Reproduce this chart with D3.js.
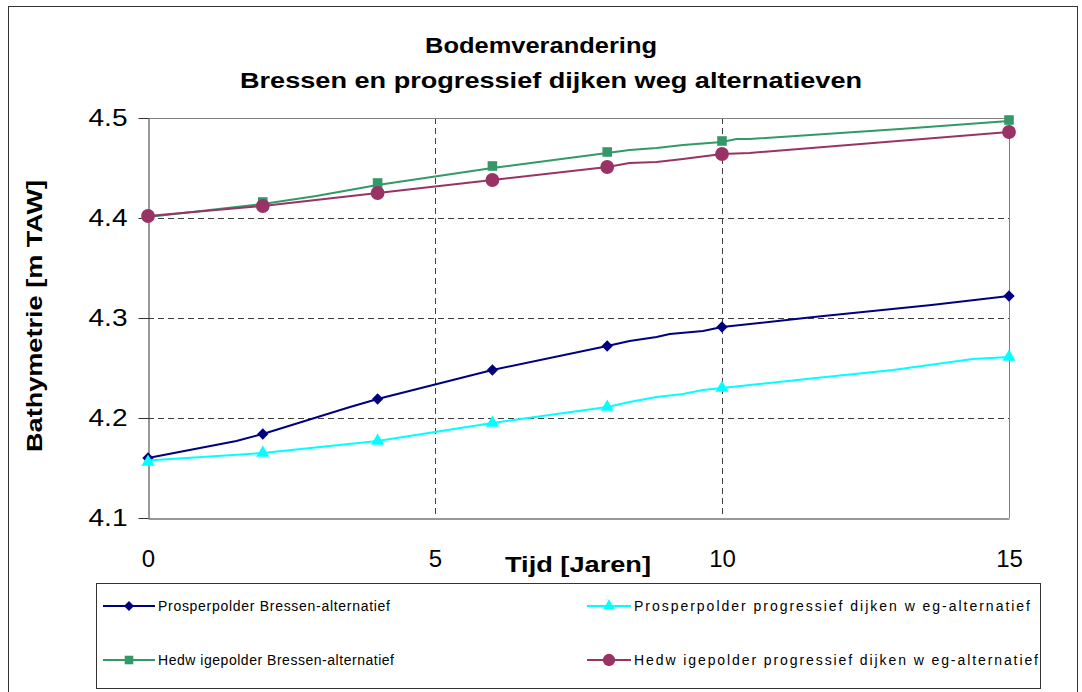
<!DOCTYPE html>
<html lang="nl">
<head>
<meta charset="UTF-8">
<title>Bodemverandering</title>
<script src="https://d3js.org/d3.v7.min.js"></script>
<style>
  body { margin: 0; background: #fff; font-family: Arial, "Liberation Sans", sans-serif; }
</style>
</head>
<body>
<div id="chart"></div>
<script>
// marker years
const markerYears = [0, 2, 4, 6, 8, 10, 15];

// marker values per series
const prosperBressen   = [4.160, 4.184, 4.219, 4.248, 4.272, 4.291, 4.322];
const prosperProgr     = [4.156, 4.165, 4.177, 4.195, 4.211, 4.230, 4.261];
const hedwigeBressen   = [4.402, 4.416, 4.435, 4.452, 4.466, 4.477, 4.498];
const hedwigeProgr     = [4.402, 4.412, 4.425, 4.438, 4.451, 4.464, 4.486];

// line (model output) times and values per series
const prosperBressenT  = [0, 1.54, 2, 3.52, 4, 6, 8, 8.39, 8.86, 9.09, 9.67, 10, 11.6, 13.65, 15];
const prosperBressenV  = [4.160, 4.177, 4.184, 4.211, 4.219, 4.248, 4.272, 4.277, 4.281, 4.284, 4.287, 4.291, 4.301, 4.313, 4.322];
const prosperProgrT    = [0, 2, 3.0, 4, 6, 8, 8.39, 8.86, 9.32, 9.67, 10, 11.64, 12.98, 14.37, 15];
const prosperProgrV    = [4.1575, 4.165, 4.171, 4.177, 4.195, 4.211, 4.216, 4.221, 4.224, 4.228, 4.230, 4.240, 4.248, 4.259, 4.261];
const hedwigeBressenT  = [0, 2, 2.93, 4, 6, 8, 8.39, 8.86, 9.32, 10, 10.25, 10.48, 13.1, 15];
const hedwigeBressenV  = [4.401, 4.414, 4.422, 4.433, 4.450, 4.465, 4.468, 4.470, 4.473, 4.476, 4.479, 4.479, 4.489, 4.497];
const hedwigeProgrT    = [0, 2, 4, 6, 8, 8.39, 8.86, 9.32, 10, 10.48, 15];
const hedwigeProgrV    = [4.402, 4.412, 4.425, 4.438, 4.451, 4.455, 4.456, 4.459, 4.464, 4.465, 4.486];

const seriesNames = [
  "Prosperpolder Bressen-alternatief",
  "Prosperpolder progressief dijken w eg-alternatief",
  "Hedw igepolder Bressen-alternatief",
  "Hedw igepolder progressief dijken w eg-alternatief"
];

const xTicks = [0, 5, 10, 15];
const yTicks = [4.1, 4.2, 4.3, 4.4, 4.5];

const width = 1082, height = 692;
const plot = { left: 148, right: 1009, top: 118, bottom: 518 };

// Excel style diamond (square turned 45 degrees)
const diamond = {
  draw(ctx, size) {
    const r = Math.sqrt(size / 2);
    ctx.moveTo(0, -r); ctx.lineTo(r, 0); ctx.lineTo(0, r); ctx.lineTo(-r, 0); ctx.closePath();
  }
};

const series = [
  { name: seriesNames[0], color: "#000080", marker: diamond, size: 64, m: prosperBressen, t: prosperBressenT, v: prosperBressenV, tl: 232 },
  { name: seriesNames[1], color: "#00FFFF", marker: d3.symbolTriangle, size: 74, m: prosperProgr, t: prosperProgrT, v: prosperProgrV, tl: 396 },
  { name: seriesNames[2], color: "#339966", marker: d3.symbolSquare, size: 92, m: hedwigeBressen, t: hedwigeBressenT, v: hedwigeBressenV, tl: 236 },
  { name: seriesNames[3], color: "#993366", marker: d3.symbolCircle, size: 150, m: hedwigeProgr, t: hedwigeProgrT, v: hedwigeProgrV, tl: 404 }
];

const x = d3.scaleLinear().domain([0, 15]).range([plot.left, plot.right]);
const y = d3.scaleLinear().domain([4.1, 4.5]).range([plot.bottom, plot.top]);

const svg = d3.select("#chart").append("svg")
  .attr("width", width)
  .attr("height", height);

// outer frame
svg.append("rect")
  .attr("x", 8.5).attr("y", 6.5)
  .attr("width", 1069).attr("height", 700)
  .attr("fill", "none").attr("stroke", "#333").attr("stroke-width", 1);

// title
svg.append("text")
  .attr("x", 541).attr("y", 53)
  .attr("text-anchor", "middle")
  .attr("font-size", "22px").attr("font-weight", "bold")
  .attr("textLength", 232).attr("lengthAdjust", "spacingAndGlyphs")
  .text("Bodemverandering");
svg.append("text")
  .attr("x", 551).attr("y", 88)
  .attr("text-anchor", "middle")
  .attr("font-size", "22px").attr("font-weight", "bold")
  .attr("textLength", 622).attr("lengthAdjust", "spacingAndGlyphs")
  .text("Bressen en progressief dijken weg alternatieven");

// grid lines
const grid = svg.append("g");
grid.selectAll(".hgrid")
  .data(yTicks.filter(d => d > 4.1 && d < 4.5))
  .join("line")
  .attr("x1", plot.left).attr("x2", plot.right)
  .attr("y1", d => Math.round(y(d)) + 0.5).attr("y2", d => Math.round(y(d)) + 0.5)
  .attr("stroke", "#404040").attr("stroke-dasharray", "6,4");
grid.selectAll(".vgrid")
  .data(xTicks.filter(d => d > 0 && d < 15))
  .join("line")
  .attr("y1", plot.top).attr("y2", plot.bottom)
  .attr("x1", d => Math.round(x(d)) + 0.5).attr("x2", d => Math.round(x(d)) + 0.5)
  .attr("stroke", "#404040").attr("stroke-dasharray", "6,4");

// plot border (top, right)
svg.append("path")
  .attr("d", `M${plot.left},${plot.top + 0.5}H${plot.right + 0.5}V${plot.bottom}`)
  .attr("fill", "none").attr("stroke", "#808080");

// y axis
const yAxis = svg.append("g")
  .attr("transform", `translate(${plot.left + 0.5},0)`)
  .call(d3.axisLeft(y).tickValues(yTicks).tickFormat(d3.format(".1f")).tickSizeInner(10).tickSizeOuter(0).tickPadding(11));
yAxis.select(".domain").attr("stroke", "#333");
yAxis.selectAll(".tick line").attr("stroke", "#333");
yAxis.selectAll("text").attr("font-size", "24px").attr("font-family", "Arial, 'Liberation Sans', sans-serif").attr("fill", "#000")
  .attr("textLength", 39).attr("lengthAdjust", "spacingAndGlyphs");

// x axis
const xAxis = svg.append("g")
  .attr("transform", `translate(0,${plot.bottom + 0.5})`)
  .call(d3.axisBottom(x).tickValues(xTicks).tickSizeInner(0).tickSizeOuter(0).tickPadding(31));
xAxis.select(".domain").attr("stroke", "#333");
xAxis.selectAll("text").attr("font-size", "24px").attr("font-family", "Arial, 'Liberation Sans', sans-serif").attr("fill", "#000");

// axis titles
svg.append("text")
  .attr("x", 578).attr("y", 572)
  .attr("text-anchor", "middle")
  .attr("font-size", "22px").attr("font-weight", "bold")
  .attr("textLength", 146).attr("lengthAdjust", "spacingAndGlyphs")
  .text("Tijd [Jaren]");
svg.append("text")
  .attr("transform", "translate(42,316) rotate(-90)")
  .attr("text-anchor", "middle")
  .attr("font-size", "22px").attr("font-weight", "bold")
  .attr("textLength", 272).attr("lengthAdjust", "spacingAndGlyphs")
  .text("Bathymetrie [m TAW]");

// lines and markers
const line = d3.line().x(d => x(d[0])).y(d => y(d[1]));
series.forEach(s => {
  svg.append("path")
    .datum(s.t.map((t, i) => [t, s.v[i]]))
    .attr("d", line)
    .attr("fill", "none")
    .attr("stroke", s.color)
    .attr("stroke-width", 2);
  svg.append("g").selectAll("path")
    .data(markerYears.map((t, i) => [t, s.m[i]]))
    .join("path")
    .attr("d", d3.symbol().type(s.marker).size(s.size))
    .attr("transform", d => `translate(${x(d[0])},${y(d[1])})`)
    .attr("fill", s.color);
});

// legend
const legend = svg.append("g");
legend.append("rect")
  .attr("x", 96.5).attr("y", 583.5)
  .attr("width", 944).attr("height", 105)
  .attr("fill", "#fff").attr("stroke", "#333");
const legendPos = [
  { lx: 103, ly: 606, w: 52 }, { lx: 587, ly: 606, w: 44 },
  { lx: 103, ly: 660, w: 52 }, { lx: 587, ly: 660, w: 44 }
];
series.forEach((s, i) => {
  const p = legendPos[i];
  const g = legend.append("g").attr("transform", `translate(${p.lx},${p.ly})`);
  g.append("line").attr("x1", 0).attr("x2", p.w).attr("y1", 0).attr("y2", 0)
    .attr("stroke", s.color).attr("stroke-width", 2);
  g.append("path").attr("d", d3.symbol().type(s.marker).size(s.size * 0.8))
    .attr("transform", `translate(${p.w / 2},0)`).attr("fill", s.color);
  g.append("text").attr("x", p.w + 3).attr("y", 5)
    .attr("font-size", "14px")
    .attr("textLength", s.tl).attr("lengthAdjust", "spacing")
    .text(s.name);
});
</script>
</body>
</html>
